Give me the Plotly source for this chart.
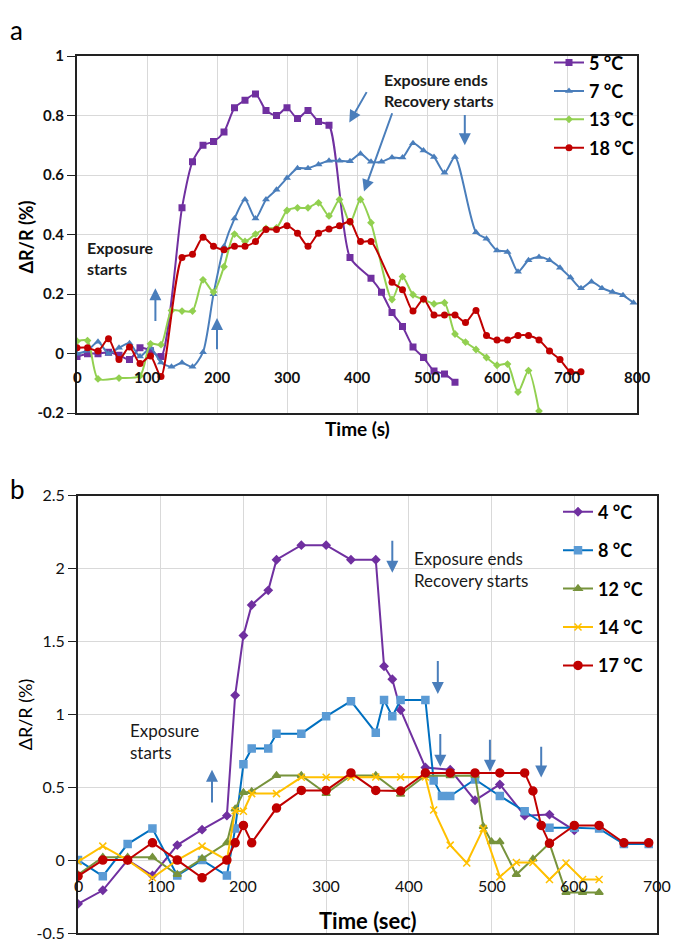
import plotly.graph_objects as go

W, H = 673, 943
FONT = "Lato"

# ---------------- Panel a data ----------------
a_t5 = [0, 15, 30, 45, 60, 75, 90, 105, 120, 150, 165, 180, 195, 210, 225, 240, 255, 270, 285, 300, 315,
        330, 345, 360, 390, 420, 435, 450, 465, 480, 495, 510, 525, 540]
a_v5 = [-0.01, 0.0, 0.0, 0.005, -0.005, -0.02, 0.02, 0.01, -0.01, 0.49, 0.645, 0.70, 0.713, 0.745, 0.826,
        0.852, 0.873, 0.817, 0.80, 0.826, 0.79, 0.817, 0.78, 0.768, 0.323, 0.253, 0.206, 0.138, 0.091,
        0.022, -0.013, -0.058, -0.068, -0.096]

a_t7 = [0, 15, 30, 45, 60, 75, 90, 105, 120, 135, 150, 165, 180, 195, 210, 225, 240, 255, 270, 285, 300,
        315, 330, 345, 360, 375, 390, 405, 420, 435, 450, 465, 480, 495, 510, 525, 540, 570, 585, 600,
        615, 630, 645, 660, 675, 690, 705, 720, 735, 750, 765, 780, 795]
a_v7 = [0.0, 0.01, 0.04, 0.0, 0.02, 0.035, -0.01, 0.02, -0.03, -0.044, -0.031, -0.044, 0.005, 0.2, 0.36,
        0.454, 0.518, 0.454, 0.518, 0.551, 0.59, 0.623, 0.623, 0.636, 0.648, 0.648, 0.647, 0.672, 0.645,
        0.645, 0.659, 0.659, 0.707, 0.683, 0.661, 0.608, 0.661, 0.408, 0.386, 0.347, 0.342, 0.275, 0.314,
        0.325, 0.314, 0.289, 0.256, 0.22, 0.242, 0.22, 0.207, 0.196, 0.171]

a_t13 = [0, 15, 30, 60, 90, 105, 120, 135, 150, 165, 180, 195, 210, 225, 240, 255, 270, 285, 300, 315,
         330, 345, 360, 375, 390, 405, 420, 450, 465, 480, 495, 510, 525, 540, 555, 570, 585, 600, 615,
         630, 645, 660]
a_v13 = [0.042, 0.044, -0.085, -0.082, -0.075, 0.033, 0.03, 0.145, 0.143, 0.143, 0.248, 0.207, 0.292,
         0.402, 0.377, 0.402, 0.421, 0.423, 0.481, 0.49, 0.49, 0.507, 0.463, 0.518, 0.44, 0.518, 0.44,
         0.182, 0.259, 0.198, 0.182, 0.167, 0.171, 0.066, 0.039, 0.014, -0.013, -0.039, -0.035, -0.129,
         -0.057, -0.193]

a_t18 = [0, 15, 30, 45, 60, 75, 90, 105, 120, 150, 165, 180, 195, 210, 225, 240, 255, 270, 285, 300, 315,
         330, 345, 360, 375, 390, 405, 420, 450, 465, 480, 495, 510, 525, 540, 555, 570, 585, 600, 615,
         630, 645, 660, 675, 690, 705, 720]
a_v18 = [0.02, 0.02, 0.009, 0.05, -0.02, 0.022, -0.033, -0.008, -0.077, 0.323, 0.334, 0.391, 0.361, 0.349,
         0.361, 0.361, 0.377, 0.417, 0.417, 0.43, 0.405, 0.361, 0.405, 0.419, 0.43, 0.444, 0.377, 0.377,
         0.24, 0.215, 0.143, 0.184, 0.13, 0.13, 0.13, 0.105, 0.145, 0.061, 0.046, 0.046, 0.061, 0.061,
         0.046, 0.009, -0.02, -0.061, -0.061]

a_names = ["5 °C", "7 °C", "13 °C", "18 °C"]
a_xticks = [0, 100, 200, 300, 400, 500, 600, 700, 800]
a_yticks = [-0.2, 0, 0.2, 0.4, 0.6, 0.8, 1]
a_yticktext = ["-0.2", "0", "0.2", "0.4", "0.6", "0.8", "1"]

# ---------------- Panel b data ----------------
b_t4 = [0, 30, 60, 90, 120, 150, 180, 190, 200, 210, 230, 240, 270, 300, 330, 360, 370, 380, 390, 420,
        450, 480, 510, 540, 570, 600]
b_v4 = [-0.30, -0.207, 0.0, -0.106, 0.103, 0.209, 0.305, 1.13, 1.54, 1.75, 1.85, 2.06, 2.16, 2.16, 2.06,
        2.06, 1.33, 1.24, 1.03, 0.635, 0.62, 0.41, 0.519, 0.305, 0.312, 0.204]

b_t8 = [0, 30, 60, 90, 120, 150, 180, 190, 200, 210, 230, 240, 270, 300, 330, 360, 370, 380, 390, 420,
        430, 440, 450, 480, 510, 540, 570, 600, 630, 660, 690]
b_v8 = [0.0, -0.11, 0.11, 0.216, -0.106, 0.0, -0.106, 0.216, 0.658, 0.766, 0.766, 0.867, 0.867, 0.986,
        1.09, 0.874, 1.098, 0.986, 1.098, 1.098, 0.546, 0.44, 0.44, 0.553, 0.44, 0.335, 0.222, 0.222,
        0.216, 0.11, 0.11]

b_t12 = [0, 30, 60, 90, 120, 150, 180, 190, 200, 210, 240, 270, 300, 330, 360, 390, 420, 450, 480, 490,
         500, 510, 530, 550, 570, 590, 610, 630]
b_v12 = [-0.1, 0.02, 0.02, 0.02, -0.099, 0.011, 0.119, 0.35, 0.463, 0.47, 0.58, 0.58, 0.456, 0.58, 0.58,
         0.451, 0.58, 0.578, 0.58, 0.231, 0.126, 0.126, -0.099, 0.007, 0.115, -0.222, -0.222, -0.222]

b_t14 = [0, 30, 60, 90, 120, 150, 180, 190, 200, 210, 240, 270, 300, 330, 360, 390, 420, 430, 450, 470,
         490, 510, 530, 550, 570, 590, 610, 630]
b_v14 = [-0.01, 0.096, 0.0, -0.121, 0.0, 0.096, 0.0, 0.339, 0.335, 0.456, 0.456, 0.568, 0.568, 0.568,
         0.57, 0.57, 0.57, 0.344, 0.103, -0.02, 0.216, -0.115, -0.016, -0.016, -0.133, -0.02, -0.133, -0.133]

b_t17 = [0, 30, 60, 90, 120, 150, 180, 190, 200, 210, 240, 270, 300, 330, 360, 390, 420, 450, 480, 510,
         540, 550, 560, 570, 600, 630, 660, 690]
b_v17 = [-0.11, 0.0, 0.0, 0.119, 0.0, -0.121, 0.0, 0.119, 0.238, 0.119, 0.357, 0.478, 0.478, 0.598, 0.478,
         0.474, 0.598, 0.598, 0.598, 0.598, 0.598, 0.474, 0.238, 0.115, 0.238, 0.238, 0.119, 0.119]

b_names = ["4 °C", "8 °C", "12 °C", "14 °C", "17 °C"]
b_xticks = [0, 100, 200, 300, 400, 500, 600, 700]
b_yticks = [-0.5, 0, 0.5, 1, 1.5, 2, 2.5]
b_yticktext = ["-0.5", "0", "0.5", "1", "1.5", "2", "2.5"]

# ---------------- Figure ----------------
fig = go.Figure()

a_series = [
    (a_t5, a_v5, "#7030a0", "square", 7),
    (a_t7, a_v7, "#4a7ebb", "triangle-up", 7),
    (a_t13, a_v13, "#92d050", "diamond", 6),
    (a_t18, a_v18, "#c00000", "circle", 7),
]
for (t, v, c, sym, sz), name in zip(a_series, a_names):
    fig.add_trace(go.Scatter(
        x=t, y=v, name=name, mode="lines+markers",
        line=dict(color=c, width=2, shape="spline", smoothing=0.7),
        marker=dict(symbol=sym, size=sz, color=c),
        xaxis="x", yaxis="y", legend="legend", legendgroup=name,
    ))

b_series = [
    (b_t4, b_v4, "#7030a0", "#7030a0", "diamond", 6),
    (b_t8, b_v8, "#0070c0", "#5b9bd5", "square", 7),
    (b_t12, b_v12, "#77933c", "#77933c", "triangle-up", 7),
    (b_t14, b_v14, "#ffc000", "#ffc000", "x-thin", 7),
    (b_t17, b_v17, "#c00000", "#c00000", "circle", 8),
]
for (t, v, c, mc, sym, sz), name in zip(b_series, b_names):
    fig.add_trace(go.Scatter(
        x=t, y=v, name=name, mode="lines+markers",
        line=dict(color=c, width=2),
        marker=dict(symbol=sym, size=sz, color=mc, line=dict(color=mc, width=1.5)),
        xaxis="x2", yaxis="y2", legend="legend2", legendgroup=name,
    ))

def px_x(p):
    return p / W

def px_y(p):
    return 1 - p / H

tick_a = dict(family=FONT, size=15, color="#111", weight="bold")
tick_b = dict(family=FONT, size=16, color="#111")
grid = "#d9d9d9"
frame = "#222"

fig.update_layout(
    width=W, height=H,
    margin=dict(l=0, r=0, t=0, b=0),
    paper_bgcolor="white", plot_bgcolor="white",
    font=dict(family=FONT, color="black"),
    xaxis=dict(domain=[px_x(77), px_x(637)], range=[0, 800], tickvals=a_xticks,
               showticklabels=False, showgrid=True, gridcolor=grid, gridwidth=1,
               showline=True, linecolor=frame, linewidth=2, mirror=True, zeroline=False,
               anchor="y"),
    yaxis=dict(domain=[px_y(411), px_y(47)], range=[-0.2, 1], tickvals=a_yticks, ticktext=a_yticktext,
               tickfont=tick_a, ticks="outside", ticklen=8, tickcolor=frame,
               showgrid=True, gridcolor=grid, gridwidth=1,
               showline=True, linecolor=frame, linewidth=2, mirror=True, zeroline=False,
               anchor="x"),
    xaxis2=dict(domain=[px_x(78), px_x(657)], range=[0, 700], tickvals=b_xticks,
                showticklabels=False, showgrid=True, gridcolor=grid, gridwidth=1,
                showline=True, linecolor=frame, linewidth=2, mirror=True, zeroline=False,
                anchor="y2"),
    yaxis2=dict(domain=[px_y(941), px_y(495)], range=[-0.5, 2.5], tickvals=b_yticks, ticktext=b_yticktext,
                tickfont=tick_b, ticks="outside", ticklen=8, tickcolor=frame,
                showgrid=True, gridcolor=grid, gridwidth=1,
                showline=True, linecolor=frame, linewidth=2, mirror=True, zeroline=False,
                anchor="x2"),
    legend=dict(x=px_x(549), y=px_y(35), xanchor="left", yanchor="top",
                bgcolor="rgba(0,0,0,0)", font=dict(family=FONT, size=18, color="black", weight="bold"),
                tracegroupgap=2, itemwidth=30),
    legend2=dict(x=px_x(558), y=px_y(493), xanchor="left", yanchor="top",
                 bgcolor="rgba(0,0,0,0)", font=dict(family=FONT, size=18, color="black", weight="bold"),
                 tracegroupgap=12, itemwidth=30),
    showlegend=True,
)

ann = []
# x tick labels at the zero line (Excel style)
for v in a_xticks:
    ann.append(dict(x=v, y=0, xref="x", yref="y", text=str(v), showarrow=False,
                    xanchor="center", yanchor="middle", yshift=-23, font=tick_a))
for v in b_xticks:
    ann.append(dict(x=v, y=0, xref="x2", yref="y2", text=str(v), showarrow=False,
                    xanchor="center", yanchor="middle", yshift=-25, font=tick_b))

def paper_text(xp, yp, text, font, angle=0, xanchor="center"):
    return dict(x=px_x(xp), y=px_y(yp), xref="paper", yref="paper", text=text, showarrow=False,
                xanchor=xanchor, yanchor="middle", textangle=angle, font=font)

# axis titles
ann.append(paper_text(357, 427, "Time (s)", dict(family=FONT, size=19, color="black", weight="bold")))
ann.append(paper_text(26, 232, "ΔR/R (%)", dict(family=FONT, size=18, color="black", weight="bold"), angle=-90))
ann.append(paper_text(368, 928, "Time (sec)", dict(family=FONT, size=22, color="black", weight="bold")))
ann.append(paper_text(25, 718, "ΔR/R (%)", dict(family=FONT, size=18, color="black"), angle=-90))

# panel letters
ann.append(paper_text(8, 20, "a", dict(family=FONT, size=26, color="black"), xanchor="left"))
ann.append(paper_text(8, 488, "b", dict(family=FONT, size=26, color="black"), xanchor="left"))

txt_a = dict(family=FONT, size=16, color="#1a1a1a", weight="bold")
txt_b = dict(family=FONT, size=17, color="#1a1a1a")
# panel a texts
ann.append(dict(x=11, y=0.32, xref="x", yref="y", text="Exposure<br>starts", showarrow=False,
                xanchor="left", yanchor="middle", align="left", font=txt_a))
ann.append(dict(x=436, y=0.886, xref="x", yref="y", text="Exposure ends<br>Recovery starts", showarrow=False,
                xanchor="left", yanchor="middle", align="left", font=txt_a))
# panel b texts
ann.append(dict(x=60, y=0.815, xref="x2", yref="y2", text="Exposure<br>starts", showarrow=False,
                xanchor="left", yanchor="middle", align="left", font=txt_b))
ann.append(dict(x=404, y=1.995, xref="x2", yref="y2", text="Exposure ends<br>Recovery starts", showarrow=False,
                xanchor="left", yanchor="middle", align="left", font=txt_b))

arrow_c = "#4a7ebb"
def arrow(xr, yr, x, y, ax, ay):
    return dict(x=x, y=y, ax=ax, ay=ay, xref=xr, yref=yr, axref=xr, ayref=yr, text="",
                showarrow=True, arrowhead=2, arrowsize=1.2, arrowwidth=2, arrowcolor=arrow_c)

# panel a arrows (tip, tail)
ann.append(arrow("x", "y", 112, 0.22, 112, 0.105))
ann.append(arrow("x", "y", 200, 0.12, 200, 0.01))
ann.append(arrow("x", "y", 389, 0.777, 415, 0.884))
ann.append(arrow("x", "y", 410, 0.545, 451, 0.813))
ann.append(arrow("x", "y", 554, 0.70, 554, 0.807))
# panel b arrows
ann.append(arrow("x2", "y2", 162, 0.62, 162, 0.384))
ann.append(arrow("x2", "y2", 380, 1.97, 380, 2.20))
ann.append(arrow("x2", "y2", 435, 1.14, 435, 1.375))
ann.append(arrow("x2", "y2", 438, 0.64, 438, 0.876))
ann.append(arrow("x2", "y2", 498, 0.606, 498, 0.836))
ann.append(arrow("x2", "y2", 560, 0.566, 560, 0.788))

fig.update_layout(annotations=ann)

fig.write_html("out.html")
